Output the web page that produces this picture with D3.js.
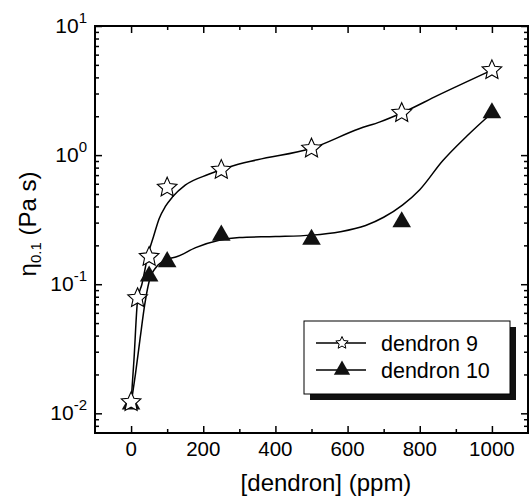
<!DOCTYPE html>
<html>
<head>
<meta charset="utf-8">
<script src="https://cdn.jsdelivr.net/npm/d3@7"></script>
<style>
  body { margin: 0; background: #fff; }
  svg { font-family: "Liberation Sans", Arial, sans-serif; }
  .axis line { stroke: #000; stroke-width: 1.5; }
</style>
</head>
<body>
<div class="chart"></div>
<script>
// measured points
const conc9 = [0, 18, 50, 100, 250, 500, 750, 1000];
const eta9 = [0.0122, 0.078, 0.163, 0.561, 0.768, 1.125, 2.12, 4.55];
const conc10 = [0, 50, 100, 250, 500, 750, 1000];
const eta10 = [0.0118, 0.1155, 0.149, 0.239, 0.222, 0.304, 2.12];

// fitted curves
const fit9x = [0, 8, 18, 30, 48, 62, 78, 95, 115, 150, 215, 272, 350, 500, 632, 690, 750, 850, 1000];
const fit9y = [0.0122, 0.026, 0.075, 0.10, 0.174, 0.233, 0.323, 0.40, 0.475, 0.585, 0.71, 0.81, 0.92, 1.13, 1.6, 1.81, 2.12, 2.9, 4.55];
const fit10x = [0, 12, 25, 38, 50, 70, 100, 126, 179, 244, 300, 400, 500, 580, 650, 700, 752, 800, 863, 930, 1000];
const fit10y = [0.0118, 0.02, 0.038, 0.07, 0.105, 0.136, 0.156, 0.163, 0.192, 0.219, 0.23, 0.234, 0.24, 0.255, 0.285, 0.33, 0.41, 0.54, 0.9, 1.4, 2.12];

const xMajor = [0, 200, 400, 600, 800, 1000];
const xMinor = [100, 300, 500, 700, 900];
const yMajor = [0.01, 0.1, 1, 10];
const seriesNames = ["dendron 9", "dendron 10"];

const margin = {top: 26, right: 2, bottom: 65, left: 95};
const width = 530 - margin.left - margin.right;
const height = 498 - margin.top - margin.bottom;

const root = d3.select(".chart")
    .append("svg")
    .attr("width", 530)
    .attr("height", 498);
const svg = root.append("g")
    .attr("transform", "translate(" + margin.left + "," + margin.top + ")");

let xScale = d3.scaleLinear().domain([-100, 1100]).range([0, width]);
let yScale = d3.scaleLog().domain([0.00704, 10]).range([height, 0]);

let yMinor = [];
[0.001, 0.01, 0.1, 1].forEach(dec => {
    for (let k = 2; k <= 9; k++) {
        let v = dec * k;
        if (v >= 0.00704 && v <= 10) yMinor.push(v);
    }
});

function tickAxis(axis, vals, size, tx, ty){
    let g = svg.append("g")
        .attr("class", "axis")
        .attr("transform", `translate(${tx}, ${ty})`)
        .call(axis.tickValues(vals).tickSize(size).tickSizeOuter(0).tickFormat(""));
    g.select(".domain").remove();
    return g;
}

// ticks on all four sides, pointing inward
tickAxis(d3.axisBottom(xScale), xMajor, -7, 0, height);
tickAxis(d3.axisBottom(xScale), xMinor, -4, 0, height);
tickAxis(d3.axisTop(xScale), xMajor, -7, 0, 0);
tickAxis(d3.axisTop(xScale), xMinor, -4, 0, 0);
tickAxis(d3.axisLeft(yScale), yMajor, -7, 0, 0);
tickAxis(d3.axisLeft(yScale), yMinor, -4, 0, 0);
tickAxis(d3.axisRight(yScale), yMajor, -7, width, 0);
tickAxis(d3.axisRight(yScale), yMinor, -4, width, 0);

// x tick labels
svg.selectAll(".xlab")
    .data(xMajor)
    .enter()
    .append("text")
    .attr("x", d => xScale(d))
    .attr("y", height + 23)
    .attr("text-anchor", "middle")
    .attr("font-size", 20.5)
    .text(d => d);

// y tick labels 10^n
let ylab = svg.selectAll(".ylab")
    .data(yMajor)
    .enter()
    .append("text")
    .attr("x", -8)
    .attr("y", d => yScale(d) + 7)
    .attr("text-anchor", "end")
    .attr("font-size", 21);
ylab.append("tspan").text("10");
ylab.append("tspan")
    .attr("font-size", 15)
    .attr("dy", -10)
    .text(d => Math.round(Math.log10(d)));

// frame
svg.append("rect")
    .attr("width", width)
    .attr("height", height)
    .attr("fill", "none")
    .attr("stroke", "#000")
    .attr("stroke-width", 2);

// curves
let line = d3.line()
    .x(d => xScale(d[0]))
    .y(d => yScale(d[1]))
    .curve(d3.curveMonotoneX);

svg.append("path")
    .attr("d", line(fit9x.map((v, i) => [v, fit9y[i]])))
    .attr("fill", "none")
    .attr("stroke", "#000")
    .attr("stroke-width", 1.5);

svg.append("path")
    .attr("d", line(fit10x.map((v, i) => [v, fit10y[i]])))
    .attr("fill", "none")
    .attr("stroke", "#000")
    .attr("stroke-width", 1.5);

// fatter 5-point star than d3.symbolStar, size = outer radius
const fatStar = {
    draw(context, r) {
        for (let i = 0; i < 10; i++) {
            let rad = i % 2 == 0 ? r : r * 0.47;
            let a = Math.PI * i / 5 - Math.PI / 2;
            if (i == 0) context.moveTo(rad * Math.cos(a), rad * Math.sin(a));
            else context.lineTo(rad * Math.cos(a), rad * Math.sin(a));
        }
        context.closePath();
    }
};
const star = d3.symbol().type(fatStar).size(10.3);
const tri = d3.symbol().type(d3.symbolTriangle).size(150);

svg.selectAll(".tri")
    .data(conc10)
    .enter()
    .append("path")
    .attr("transform", (d, i) => `translate(${xScale(d)}, ${yScale(eta10[i])})`)
    .attr("d", tri)
    .attr("fill", "#111");

svg.selectAll(".star")
    .data(conc9)
    .enter()
    .append("path")
    .attr("transform", (d, i) => `translate(${xScale(d)}, ${yScale(eta9[i])})`)
    .attr("d", star)
    .attr("fill", "#fff")
    .attr("stroke", "#000")
    .attr("stroke-width", 1.1);

// legend
let lg = root.append("g").attr("transform", "translate(304, 321)");
lg.append("rect")
    .attr("x", 6).attr("y", 6)
    .attr("width", 206).attr("height", 73)
    .attr("fill", "#111");
lg.append("rect")
    .attr("width", 206).attr("height", 73)
    .attr("fill", "#fff")
    .attr("stroke", "#000")
    .attr("stroke-width", 1);

const legMarks = [d3.symbol().type(fatStar).size(6.5), d3.symbol().type(d3.symbolTriangle).size(115)];
seriesNames.forEach((name, i) => {
    let yy = 22 + i * 27;
    lg.append("line")
        .attr("x1", 12).attr("x2", 62)
        .attr("y1", yy).attr("y2", yy)
        .attr("stroke", "#000").attr("stroke-width", 1.3);
    lg.append("path")
        .attr("transform", `translate(38, ${yy})`)
        .attr("d", legMarks[i])
        .attr("fill", i == 0 ? "#fff" : "#111")
        .attr("stroke", i == 0 ? "#000" : "none")
        .attr("stroke-width", 1);
    lg.append("text")
        .attr("x", 77)
        .attr("y", yy + 7.5)
        .attr("font-size", 21.5)
        .text(name);
});

// axis titles
root.append("text")
    .attr("x", 326)
    .attr("y", 491)
    .attr("text-anchor", "middle")
    .attr("font-size", 24)
    .text("[dendron] (ppm)");

let yt = root.append("text")
    .attr("transform", "translate(36, 224) rotate(-90)")
    .attr("text-anchor", "middle")
    .attr("font-size", 24);
yt.append("tspan").text("\u03b7");
yt.append("tspan").attr("font-size", 15).attr("dy", 5).text("0.1");
yt.append("tspan").attr("dy", -5).text(" (Pa s)");
</script>
</body>
</html>
